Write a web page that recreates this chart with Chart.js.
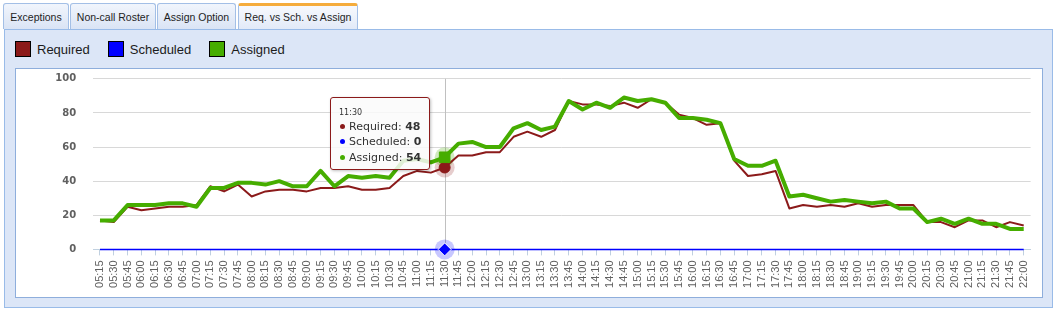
<!DOCTYPE html>
<html>
<head>
<meta charset="utf-8">
<script src="https://cdn.jsdelivr.net/npm/chart.js@4.4.0/dist/chart.umd.min.js"></script>
<style>
  html, body { margin: 0; padding: 0; background: #fff; }
  body { width: 1056px; height: 311px; position: relative; overflow: hidden; font-family: "Liberation Sans", Arial, sans-serif; }
  .tab { position: absolute; top: 3px; height: 26px; box-sizing: border-box; border: 1px solid #a3bfe6; border-bottom: none;
         border-radius: 3px 3px 0 0; background: linear-gradient(#f1f5fc, #dae4f5); font-size: 10.5px; color: #1e1e1e;
         line-height: 26px; text-align: center; white-space: nowrap; }
  .tab.active { border-top: 3px solid #f5ac3c; line-height: 22px; background: linear-gradient(#f7f9fd, #e2eaf8); }
  #panel { position: absolute; left: 4px; top: 29px; width: 1049px; height: 279px; box-sizing: border-box;
           border: 1px solid #99bbe8; background: #dce6f7; }
  #legend { position: absolute; left: 15px; top: 41px; display: flex; align-items: center; font-size: 13px; color: #1b1b1b; }
  #legend .item { display: flex; align-items: center; margin-right: 18px; }
  #legend .sq { width: 16px; height: 16px; box-sizing: border-box; border: 1px solid #000; margin-right: 6px; }
  #box { position: absolute; left: 15px; top: 68px; width: 1028px; height: 230px; box-sizing: border-box;
         border: 1px solid #8eaedc; background: #fff; }
  #chart { position: absolute; left: 0; top: 0; }
  #tip { position: absolute; width: 100px; box-sizing: border-box; border: 1px solid #8b1a1a; border-radius: 3px;
         background: rgba(250,250,250,0.85); box-shadow: 1px 1px 3px rgba(0,0,0,0.25); padding: 9px 4px 4px 8px;
         font-family: "DejaVu Sans", sans-serif; color: #333; opacity: 0; pointer-events: none; }
  #tip .t { font-size: 8px; line-height: 12px; }
  #tip .r { font-size: 11px; line-height: 15.3px; white-space: nowrap; }
  #tip .dot { display: inline-block; width: 5px; height: 5px; border-radius: 50%; margin: 0 4px 1px 1px; vertical-align: middle; }
</style>
</head>
<body>
<div class="tab" style="left:3px;width:66px">Exceptions</div>
<div class="tab" style="left:70px;width:86px">Non-call Roster</div>
<div class="tab" style="left:157px;width:79px">Assign Option</div>
<div class="tab active" style="left:238px;width:120px">Req. vs Sch. vs Assign</div>
<div id="panel"></div>
<div id="legend"></div>
<div id="box">
  <canvas id="chart" width="1026" height="228"></canvas>
  <div id="tip"></div>
</div>
<script>
// data
const times = ['05:15','05:30','05:45','06:00','06:15','06:30','06:45','07:00','07:15','07:30','07:45','08:00','08:15','08:30','08:45',
  '09:00','09:15','09:30','09:45','10:00','10:15','10:30','10:45','11:00','11:15','11:30','11:45','12:00','12:15','12:30','12:45',
  '13:00','13:15','13:30','13:45','14:00','14:15','14:30','14:45','15:00','15:15','15:30','15:45','16:00','16:15','16:30','16:45',
  '17:00','17:15','17:30','17:45','18:00','18:15','18:30','18:45','19:00','19:15','19:30','19:45','20:00','20:15','20:30','20:45',
  '21:00','21:15','21:30','21:45','22:00'];
const required = [17,16,25,23,24,25,25,26,37,34,38,31,34,35,35,34,36,36,37,35,35,36,43,46,45,48,55,55,57,57,
  66,69,66,70,87,85,85,84,86,83,88,86,79,77,73,74,52,43,44,46,24,26,25,26,25,27,25,26,26,26,16,16,13,17,17,13,16,14];
const scheduled = [0,0,0,0,0,0,0,0,0,0,0,0,0,0,0,0,0,0,0,0,0,0,0,0,0,0,0,0,0,0,0,0,0,0,
  0,0,0,0,0,0,0,0,0,0,0,0,0,0,0,0,0,0,0,0,0,0,0,0,0,0,0,0,0,0,0,0,0,0];
const assigned = [17,17,26,26,26,27,27,25,36,36,39,39,38,40,37,37,46,37,43,42,43,42,52,53,51,54,62,63,60,60,
  71,74,70,72,87,82,86,83,89,87,88,86,77,77,76,74,53,49,49,52,31,32,30,28,29,28,27,28,24,24,16,18,15,18,15,15,12,12];
const yTicks = [0, 20, 40, 60, 80, 100];
const seriesNames = ['Required', 'Scheduled', 'Assigned'];
const hoverIndex = 25; // 11:30

const RED = '#8b1a1a', BLUE = '#0000ff', GREEN = '#46ad00';
const haloColors = ['rgba(139,26,26,0.22)', 'rgba(0,0,255,0.22)', 'rgba(70,173,0,0.25)'];

// html legend
const legend = document.getElementById('legend');
[RED, BLUE, GREEN].forEach((c, i) => {
    const it = document.createElement('div');
    it.className = 'item';
    it.innerHTML = '<div class="sq" style="background:' + c + '"></div><span>' + seriesNames[i] + '</span>';
    legend.appendChild(it);
});

function externalTip(ctx) {
    const { chart, tooltip } = ctx;
    const el = document.getElementById('tip');
    if (tooltip.opacity === 0) { el.style.opacity = 0; return; }
    let html = '<div class="t">' + tooltip.title[0] + '</div>';
    tooltip.dataPoints.forEach(dp => {
        html += '<div class="r"><span class="dot" style="background:' + dp.dataset.borderColor + '"></span>' +
            dp.dataset.label + ': <b>' + dp.formattedValue + '</b></div>';
    });
    el.innerHTML = html;
    el.style.opacity = 1;
    el.style.left = Math.round(tooltip.caretX - el.offsetWidth - 15) + 'px';
    el.style.top = Math.round(chart.chartArea.top + 18) + 'px';
}

// crosshair + halos under the hovered points
const hoverDeco = {
    id: 'hoverDeco',
    beforeDatasetsDraw(chart) {
        const act = chart.getActiveElements();
        if (!act.length) return;
        const c = chart.ctx, area = chart.chartArea;
        const x = Math.round(act[0].element.x) + 0.5;
        c.save();
        c.strokeStyle = '#c0c0c0';
        c.lineWidth = 1;
        c.beginPath();
        c.moveTo(x, area.top);
        c.lineTo(x, area.bottom);
        c.stroke();
        act.forEach(a => {
            c.fillStyle = haloColors[a.datasetIndex];
            c.beginPath();
            c.arc(a.element.x, a.element.y, 10, 0, Math.PI * 2);
            c.fill();
        });
        c.restore();
    }
};

const chart = new Chart(document.getElementById('chart'), {
    type: 'line',
    data: {
        labels: times,
        datasets: [
            { label: seriesNames[0], data: required, borderColor: RED, backgroundColor: RED, borderWidth: 2, order: 1,
              pointStyle: 'circle', pointRadius: 0, pointHoverRadius: 5.5, pointHoverBackgroundColor: RED,
              pointHoverBorderColor: RED, pointHoverBorderWidth: 1 },
            { label: seriesNames[1], data: scheduled, borderColor: BLUE, backgroundColor: BLUE, borderWidth: 1.5, order: 2,
              pointStyle: 'rectRot', pointRadius: 0, pointHoverRadius: 6.5, pointHoverBackgroundColor: BLUE,
              pointHoverBorderColor: '#fff', pointHoverBorderWidth: 1 },
            { label: seriesNames[2], data: assigned, borderColor: GREEN, backgroundColor: GREEN, borderWidth: 4, order: 0,
              pointStyle: 'rect', pointRadius: 0, pointHoverRadius: 7.5, pointHoverBackgroundColor: GREEN,
              pointHoverBorderColor: GREEN, pointHoverBorderWidth: 1 }
        ]
    },
    options: {
        responsive: false,
        animation: false,
        events: [],
        clip: false,
        elements: { line: { tension: 0, borderJoinStyle: 'round' } },
        layout: { padding: { top: 9.8, right: 11, left: 0, bottom: 0 } },
        plugins: {
            legend: { display: false },
            tooltip: {
                enabled: false,
                mode: 'index',
                intersect: false,
                external: externalTip,
                itemSort: (a, b) => a.datasetIndex - b.datasetIndex
            }
        },
        scales: {
            x: {
                offset: true,
                afterFit: s => { s.height = 47.6; },
                grid: { drawOnChartArea: false, drawTicks: true, tickLength: 6, color: '#c0d0e0' },
                border: { display: true, color: '#c0d0e0', width: 1 },
                ticks: { autoSkip: false, minRotation: 90, maxRotation: 90, padding: 5, color: '#606060',
                         font: { family: 'Liberation Sans', size: 11 } }
            },
            y: {
                min: yTicks[0],
                max: yTicks[yTicks.length - 1],
                afterFit: s => { s.width = 77.1; },
                afterBuildTicks: s => { s.ticks = yTicks.map(v => ({ value: v })); },
                grid: { color: '#d8d8d8', drawTicks: true, tickLength: 17, tickColor: 'rgba(0,0,0,0)' },
                border: { display: false },
                ticks: { padding: 0, color: '#606060', font: { family: 'DejaVu Sans', size: 10, weight: 'bold' } }
            }
        }
    },
    plugins: [hoverDeco]
});

// show the 11:30 hover state like the reference
const active = [0, 1, 2].map(d => ({ datasetIndex: d, index: hoverIndex }));
chart.setActiveElements(active);
chart.tooltip.setActiveElements(active, { x: 0, y: 0 });
chart.update();
</script>
</body>
</html>
